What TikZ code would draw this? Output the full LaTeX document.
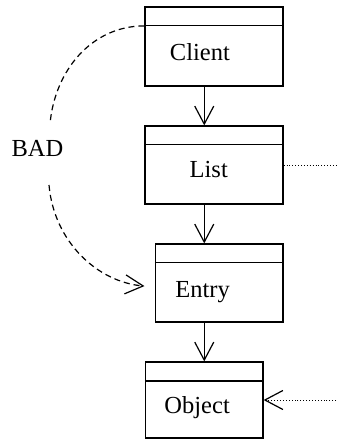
\documentclass[tikz,border=0pt]{standalone}
\usepackage{fontspec}
\setmainfont{Liberation Serif}
\usetikzlibrary{arrows.meta}

\begin{document}
\begin{tikzpicture}[x=1bp, y=-1bp,
		classbox/.style={shape=rectangle, draw=black, line width=1.2bp, inner sep=0pt},
		classname/.style={font=\fontsize{24.5bp}{29bp}\selectfont, inner sep=0pt, anchor=base east},
		uses/.style={->, >={Straight Barb[length=18bp, width=19bp, line width=1.2bp]}, line width=1.2bp},
		bad/.style={->, >={Straight Barb[length=18bp, width=19bp, line width=1.2bp]}, line width=1.2bp, dash pattern=on 6bp off 4bp},
		ref/.style={line width=0.9bp, dash pattern=on 0.9bp off 2bp}]
			\useasboundingbox (0,0) rectangle (336,440);
			%Classes:
			\path
				(214, 46.5) node[classbox, minimum width=138bp, minimum height=79bp] (client) {}
				(214, 165) node[classbox, minimum width=138bp, minimum height=78bp] (list) {}
				(219.25, 283) node[classbox, minimum width=127.5bp, minimum height=78bp] (entry) {}
				(204.25, 400) node[classbox, minimum width=117.5bp, minimum height=76bp] (object) {};
			%Name compartments:
			\draw[line width=1.2bp] ([yshift=-19.5bp]client.north west) -- ([yshift=-19.5bp]client.north east);
			\draw[line width=1.2bp] ([yshift=-19.5bp]list.north west) -- ([yshift=-19.5bp]list.north east);
			\draw[line width=1.2bp] ([yshift=-19bp]entry.north west) -- ([yshift=-19bp]entry.north east);
			\draw[line width=1.2bp] ([yshift=-19.5bp]object.north west) -- ([yshift=-19.5bp]object.north east);
			%Names:
			\path
				(230, 61) node[classname] (clientname) {Client}
				(228, 178) node[classname] (listname) {List}
				(230, 297) node[classname] (entryname) {Entry}
				(230, 413) node[classname] (objectname) {Object}
				(37.5, 157) node[classname, anchor=base] (badname) {BAD};
			%Chain arrows:
			\draw[uses] (client.south -| object.north) -- (list.north -| object.north);
			\draw[uses] (list.south -| object.north) -- (entry.north -| object.north);
			\draw[uses] (entry.south -| object.north) -- (object.north);
			%Bad shortcut:
			\coordinate (clienthead) at ([yshift=-19.5bp]client.north west);
			\coordinate (badtop) at (50, 124);
			\coordinate (badbot) at (49, 185);
			\draw[line width=1.2bp, dash pattern=on 6bp off 4bp]
				(clienthead) to[out=180, in=85] (badtop);
			\draw[bad, shorten >=10.5bp]
				(badbot) to[out=-85, in=175] ([yshift=-4bp]entry.west);
			%Outside references:
			\coordinate (listref) at (336, 165);
			\coordinate (objectref) at (336, 400);
			\draw[ref] (list.east) -- (listref);
			\draw[ref, ->, >={Straight Barb[length=18bp, width=19bp, line width=1.2bp]}] (objectref) -- (object.east);
\end{tikzpicture}
\end{document}
